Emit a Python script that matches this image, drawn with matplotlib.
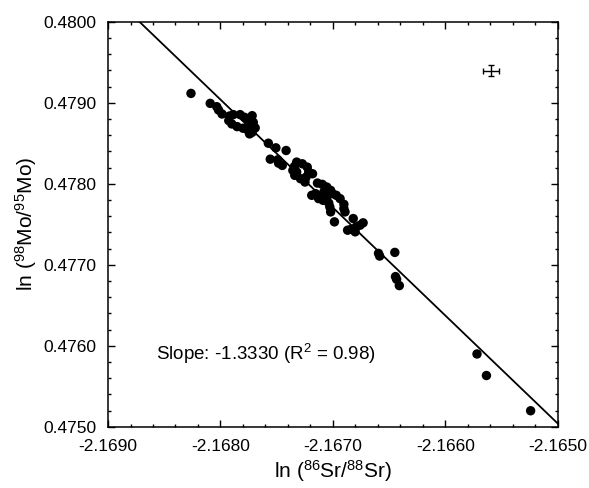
import matplotlib
matplotlib.use('Agg')
import matplotlib.pyplot as plt
import numpy as np
from matplotlib.ticker import MultipleLocator, FormatStrFormatter

plt.rcParams['font.family'] = ['Liberation Sans', 'DejaVu Sans']

# ln(86Sr/88Sr) vs ln(98Mo/95Mo)
sr_ln = [-2.168262, -2.168091, -2.168033, -2.168017, -2.167986,
         -2.167919, -2.167886, -2.167825, -2.167785, -2.167752,
         -2.167731, -2.167758, -2.167799, -2.167852, -2.167899,
         -2.167926, -2.167718, -2.167708, -2.167691, -2.167718,
         -2.167741, -2.167574, -2.167507, -2.167416, -2.167557,
         -2.167490, -2.167450, -2.167483, -2.167322, -2.167272,
         -2.167228, -2.167215, -2.167238, -2.167288, -2.167339,
         -2.167356, -2.167342, -2.167181, -2.167248, -2.167322,
         -2.167137, -2.167094, -2.167054, -2.167020, -2.167080,
         -2.167154, -2.167188, -2.167127, -2.167054, -2.167003,
         -2.166970, -2.166936, -2.167037, -2.167027, -2.167020,
         -2.166986, -2.167087, -2.166902, -2.166902, -2.166892,
         -2.166819, -2.166835, -2.166792, -2.166758, -2.166731,
         -2.166802, -2.166869, -2.166594, -2.166584, -2.166449,
         -2.166443, -2.166433, -2.166409, -2.165718, -2.165634,
         -2.165241]
mo_ln = [0.479115, 0.478992, 0.478951, 0.478910, 0.478861,
         0.478836, 0.478853, 0.478853, 0.478820, 0.478779,
         0.478717, 0.478664, 0.478685, 0.478705, 0.478738,
         0.478779, 0.478840, 0.478758, 0.478689, 0.478635,
         0.478615, 0.478500, 0.478443, 0.478410, 0.478303,
         0.478295, 0.478226, 0.478254, 0.478267, 0.478246,
         0.478205, 0.478144, 0.478082, 0.478062, 0.478103,
         0.478164, 0.478213, 0.478123, 0.478021, 0.478144,
         0.478008, 0.477992, 0.477959, 0.477918, 0.477898,
         0.477877, 0.477857, 0.477816, 0.477836, 0.477877,
         0.477857, 0.477816, 0.477762, 0.477713, 0.477652,
         0.477529, 0.477795, 0.477746, 0.477693, 0.477652,
         0.477570, 0.477439, 0.477467, 0.477488, 0.477517,
         0.477406, 0.477426, 0.477140, 0.477107, 0.477152,
         0.476853, 0.476820, 0.476742, 0.475898, 0.475632,
         0.475197]

slope = -1.3330
intercept_at = (-2.1650, 0.47504)   # fit line passes here
r2 = 0.98

# typical error bar
err_x, err_y = -2.165595, 0.479395
err_dx, err_dy = 0.000074, 0.000070

xlim = (-2.1690, -2.1650)
ylim = (0.4750, 0.4800)

fig = plt.figure(figsize=(5.89, 4.88), dpi=100)
ax = fig.add_axes([0.1834, 0.1256, 0.7635, 0.8299])

ax.scatter(sr_ln, mo_ln, s=46, c='black', edgecolors='none', zorder=3)

xl = np.array(xlim)
ax.plot(xl, intercept_at[1] + slope * (xl - intercept_at[0]), color='black', lw=1.3, zorder=2)

ax.errorbar([err_x], [err_y], xerr=[err_dx], yerr=[err_dy], fmt='none',
            ecolor='black', elinewidth=1.0, capsize=2.5, capthick=1.0)

ax.text(0.107, 0.165, 'Slope: %.4f (R$\\mathregular{^2}$ = %.2f)' % (slope, r2),
        transform=ax.transAxes, fontsize=13.5, va='baseline', ha='left')

ax.set_xlim(xlim)
ax.set_ylim(ylim)
ax.xaxis.set_major_locator(MultipleLocator(0.001))
ax.xaxis.set_minor_locator(MultipleLocator(0.0002))
ax.yaxis.set_major_locator(MultipleLocator(0.001))
ax.yaxis.set_minor_locator(MultipleLocator(0.0002))
ax.xaxis.set_major_formatter(FormatStrFormatter('%.4f'))
ax.yaxis.set_major_formatter(FormatStrFormatter('%.4f'))

ax.tick_params(which='both', direction='in', top=True, right=True, width=1)
ax.tick_params(which='major', length=5, labelsize=12.5)
ax.tick_params(which='minor', length=2.5)
ax.tick_params(axis='x', which='major', pad=9)
ax.tick_params(axis='y', which='major', pad=8.5)
for s in ax.spines.values():
    s.set_linewidth(1.1)

ax.set_xlabel(r'ln ($\mathregular{^{86}}$Sr/$\mathregular{^{88}}$Sr)', fontsize=15, labelpad=3)
ax.set_ylabel(r'ln ($\mathregular{^{98}}$Mo/$\mathregular{^{95}}$Mo)', fontsize=15, labelpad=3)

plt.savefig('out.png', dpi=100)
